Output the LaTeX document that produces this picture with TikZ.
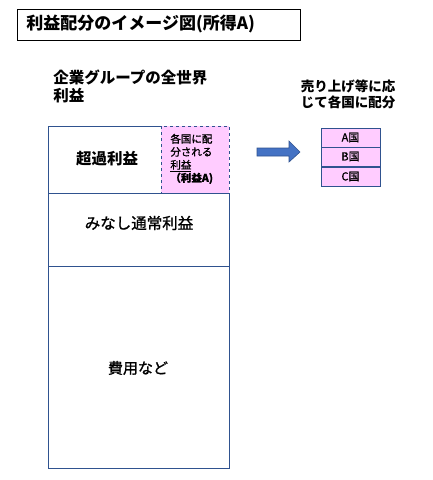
\documentclass[tikz,border=0pt]{standalone}
\usepackage{fontspec}
\setmainfont{Noto Sans CJK JP}
\newfontfamily\medfont[FakeBold=1.2]{Noto Sans CJK JP}
\definecolor{boxblue}{HTML}{2F528F}
\definecolor{arrowblue}{HTML}{4472C4}
\definecolor{pinkfill}{HTML}{FFCCFF}
\begin{document}
\begin{tikzpicture}[x=1pt, y=-1pt, line width=0.8pt,
  part/.style={draw=boxblue, line width=1pt},
  country/.style={draw=boxblue, fill=pinkfill, line width=1pt, minimum width=59pt, inner sep=0pt, font=\fontsize{11}{13}\medfont}]
  \useasboundingbox (0,0) rectangle (433,480);
  % title
  \draw (17,9) rectangle (300,40);
  \node[anchor=west, inner sep=0, font=\fontsize{17}{20}\bfseries] (title) at (26,24) {利益配分のイメージ図(所得A)};
  \node[anchor=north west, align=left, inner sep=0, font=\fontsize{15.5}{18}\bfseries] (world) at (53,69) {企業グループの全世界\\利益};
  % profit column
  \draw[part] (48,126) rectangle (161,193);
  \draw[part, fill=pinkfill, dashed] (161,126) rectangle (229,193);
  \draw[part] (48,193) rectangle (229,266);
  \draw[part] (48,266) rectangle (229,468);
  \node[font=\fontsize{15.5}{18}\bfseries] (excess) at (107,159) {超過利益};
  \node[anchor=north west, align=left, inner sep=0, font=\fontsize{10.5}{13}\medfont] (shareA) at (170,133.5) {各国に配\\分される\\\underline{利益}\\\textbf{（利益A)}};
  \node[font=\fontsize{15.5}{18}\medfont] (routine) at (139,223) {みなし通常利益};
  \node[font=\fontsize{15}{18}\medfont] (cost) at (138,368) {費用など};
  % arrow
  \draw[draw=boxblue, fill=arrowblue, line width=0.6pt] (257,148) -- (289,148) -- (289,141) -- (300,152) -- (289,162) -- (289,156) -- (257,156) -- cycle;
  % countries
  \node[anchor=north, align=center, inner sep=0, font=\fontsize{13.5}{16}\bfseries] (sales) at (348,79) {売り上げ等に応\\じて各国に配分};
  \node[country, minimum height=19pt] (A) at (350.5,137.5) {A国};
  \node[country, minimum height=19pt] (B) at (350.5,156.5) {B国};
  \node[country, minimum height=19pt] (C) at (350.5,176.5) {C国};
\end{tikzpicture}
\end{document}
